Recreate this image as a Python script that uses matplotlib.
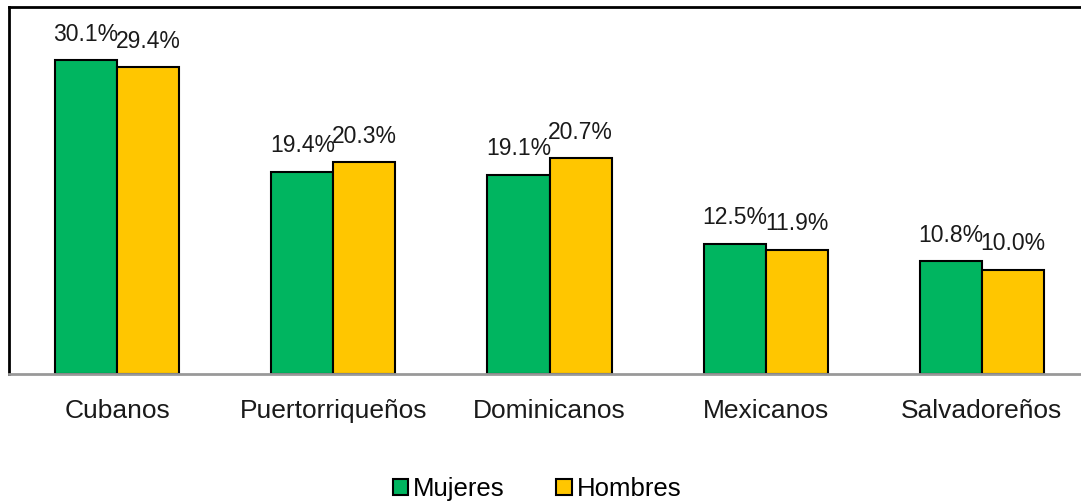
import matplotlib
matplotlib.use("Agg")
import matplotlib.pyplot as plt
import numpy as np

# Chart data
groups = ["Cubanos", "Puertorriqueños", "Dominicanos", "Mexicanos", "Salvadoreños"]
mujeres = [30.1, 19.4, 19.1, 12.5, 10.8]
hombres = [29.4, 20.3, 20.7, 11.9, 10.0]

plt.rcParams["font.family"] = ["Liberation Sans", "DejaVu Sans"]

fig = plt.figure(figsize=(10.81, 5.04), dpi=100)
ax = fig.add_axes([9 / 1081, 130 / 504, 1.0, 367 / 504])

x = np.arange(len(groups))
w = 0.287
b1 = ax.bar(x - w / 2, mujeres, w, color="#00B560", edgecolor="black", linewidth=1.5, label="Mujeres")
b2 = ax.bar(x + w / 2, hombres, w, color="#FFC600", edgecolor="black", linewidth=1.5, label="Hombres")

# Value labels above each bar
for bars, vals in ((b1, mujeres), (b2, hombres)):
    for rect, v in zip(bars, vals):
        ax.annotate(f"{v:.1f}%", (rect.get_x() + rect.get_width() / 2, rect.get_height()),
                    xytext=(0, 10.5), textcoords="offset points", ha="center", va="bottom",
                    fontsize=16.5, color="#1a1a1a")

ax.set_xlim(-0.5, len(groups) - 0.5)
ax.set_ylim(0, 35.2)
ax.set_xticks(x)
ax.set_xticklabels(groups, fontsize=19, color="#1a1a1a")
ax.tick_params(axis="x", length=0, pad=18)
ax.set_yticks([])

ax.spines["right"].set_visible(False)
ax.spines["top"].set_color("black")
ax.spines["top"].set_linewidth(2)
ax.spines["left"].set_color("black")
ax.spines["left"].set_linewidth(2)
ax.spines["bottom"].set_color("#999999")
ax.spines["bottom"].set_linewidth(2)

fig.legend(handles=[b1, b2], loc="center", bbox_to_anchor=(537 / 1081, 1 - 489 / 504),
           ncol=2, frameon=False, fontsize=18.5, handlelength=0.6, handleheight=0.6,
           handletextpad=0.2, columnspacing=2.0)

fig.savefig("out.png", dpi=100)
